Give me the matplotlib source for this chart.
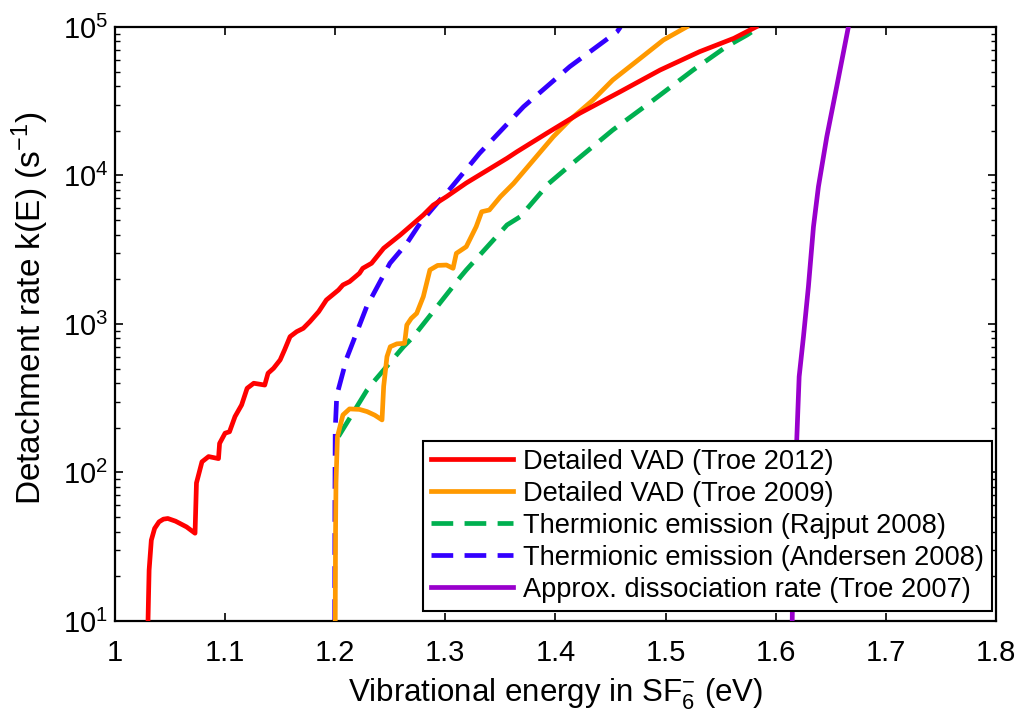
import matplotlib
matplotlib.use("Agg")
import matplotlib.pyplot as plt

plt.rcParams['font.family'] = ['Liberation Sans', 'DejaVu Sans']
plt.rcParams['mathtext.fontset'] = 'custom'
plt.rcParams['mathtext.rm'] = 'Liberation Sans'
plt.rcParams['mathtext.it'] = 'Liberation Sans:italic'
plt.rcParams['mathtext.bf'] = 'Liberation Sans:bold'

# Detailed VAD (Troe 2012)
red_x = [1.030, 1.0305, 1.031, 1.033, 1.036, 1.040, 1.044, 1.048, 1.055, 1.065, 1.0727,
         1.074, 1.079, 1.085, 1.094, 1.095, 1.100, 1.104, 1.109, 1.115, 1.120, 1.126,
         1.136, 1.139, 1.144, 1.150, 1.154, 1.159, 1.165, 1.171, 1.177, 1.185, 1.192,
         1.203, 1.207, 1.213, 1.222, 1.225, 1.233, 1.244, 1.259, 1.280, 1.289, 1.301,
         1.319, 1.356, 1.365, 1.392, 1.422, 1.459, 1.495, 1.531, 1.562, 1.582]
red_y = [10, 15, 22, 35, 42, 46.5, 48.5, 49, 47, 43, 39,
         85, 118, 128, 124, 157, 184, 188, 238, 285, 369, 399,
         388, 466, 503, 573, 669, 822, 888, 935, 1037, 1211, 1452,
         1695, 1832, 1928, 2195, 2371, 2564, 3236, 3972, 5420, 6320, 7200,
         8900, 13060, 14450, 19230, 26240, 36730, 51300, 68250, 83900, 100000]

# Detailed VAD (Troe 2009)
orange_x = [1.2, 1.2003, 1.2007, 1.202, 1.207, 1.213, 1.222, 1.229, 1.236, 1.2425,
            1.244, 1.247, 1.250, 1.256, 1.263, 1.265, 1.269, 1.274, 1.280, 1.286,
            1.293, 1.301, 1.307, 1.310, 1.319, 1.328, 1.333, 1.340, 1.350, 1.362,
            1.380, 1.398, 1.413, 1.434, 1.452, 1.477, 1.498, 1.519]
orange_y = [10, 40, 85, 174, 244, 268, 266, 257, 243, 226,
            380, 603, 703, 735, 741, 984, 1090, 1180, 1528, 2312,
            2480, 2495, 2371, 2990, 3315, 4520, 5700, 5860, 7200, 8850,
            12700, 18230, 23640, 32220, 43950, 61500, 81700, 100000]

# Thermionic emission (Rajput 2008)
green_x = [1.203, 1.229, 1.235, 1.262, 1.271, 1.314, 1.319, 1.356, 1.368, 1.394,
           1.410, 1.452, 1.489, 1.525, 1.555, 1.574, 1.585]
green_y = [175, 360, 409, 703, 822, 2086, 2310, 4645, 5280, 8850,
           11170, 20230, 32220, 51300, 73600, 88350, 100000]

# Thermionic emission (Andersen 2008)
blue_x = [1.1995, 1.1997, 1.2, 1.2014, 1.2105, 1.2286, 1.2497, 1.265, 1.277, 1.295,
          1.301, 1.331, 1.371, 1.413, 1.456, 1.459]
blue_y = [10, 60, 193, 330, 590, 1310, 2564, 3490, 4760, 6840,
          7590, 14100, 29040, 54100, 93000, 100000]

# Approx. dissociation rate (Troe 2007)
purple_x = [1.615, 1.616, 1.6213, 1.6252, 1.6297, 1.6343, 1.6388, 1.6464, 1.6554, 1.666]
purple_y = [10, 41, 442, 820, 1782, 4520, 8410, 18240, 39630, 100000]

labels = ['Detailed VAD (Troe 2012)', 'Detailed VAD (Troe 2009)',
          'Thermionic emission (Rajput 2008)', 'Thermionic emission (Andersen 2008)',
          'Approx. dissociation rate (Troe 2007)']

xticks = [1.0, 1.1, 1.2, 1.3, 1.4, 1.5, 1.6, 1.7, 1.8]
xticklabels = ['1', '1.1', '1.2', '1.3', '1.4', '1.5', '1.6', '1.7', '1.8']

fig = plt.figure(figsize=(10.22, 7.24), dpi=100)
ax = fig.add_axes([0.1125, 0.1423, 0.862, 0.8204])

lw = 3.4
dash = (4.6, 2.4)
l3, = ax.plot(green_x, green_y, color='#00B050', lw=lw, dashes=dash, zorder=2)
l4, = ax.plot(blue_x, blue_y, color='#3300FF', lw=lw, dashes=dash, zorder=2)
l2, = ax.plot(orange_x, orange_y, color='#FF9900', lw=lw, zorder=3)
l1, = ax.plot(red_x, red_y, color='#FF0000', lw=lw, zorder=4)
l5, = ax.plot(purple_x, purple_y, color='#9900CC', lw=lw, zorder=4)

ax.set_yscale('log')
ax.set_xlim(1.0, 1.8)
ax.set_ylim(10, 1e5)
ax.set_xticks(xticks)
ax.set_xticklabels(xticklabels)

fs = 21
ax.tick_params(which='both', direction='in', top=True, right=True, labelsize=fs)
ax.tick_params(which='major', length=6, width=1.2)
ax.tick_params(which='minor', length=3.5, width=1.0)
ax.tick_params(axis='x', pad=13)
ax.tick_params(axis='y', pad=5)
for s in ax.spines.values():
    s.set_linewidth(1.6)

ax.set_xlabel('Vibrational energy in SF$_6^{-}$ (eV)', fontsize=22.5, labelpad=7)
ax.set_ylabel('Detachment rate k(E) (s$^{-1}$)', fontsize=24)
ax.yaxis.set_label_coords(-0.073, 0.527)

leg = ax.legend([l1, l2, l3, l4, l5], labels, loc='lower right',
                bbox_to_anchor=(0.9955, 0.0168), borderaxespad=0, fontsize=19.6,
                fancybox=False, framealpha=1, edgecolor='black',
                handlelength=3.0, handletextpad=0.37, labelspacing=0.22,
                borderpad=0.3)
leg.get_frame().set_linewidth(1.5)

fig.savefig('out.png', dpi=100)
